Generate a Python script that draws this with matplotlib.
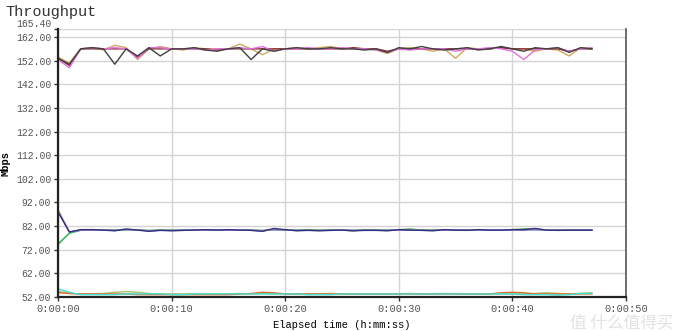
import numpy as np
import matplotlib
matplotlib.use('Agg')
import matplotlib.pyplot as plt

# Throughput (Mbps), one value per second
up_black = [153.0, 150.5, 157.0, 157.5, 157.0, 150.5, 157.0, 154.0, 157.5, 154.0,
            157.0, 157.0, 157.5, 156.5, 156.0, 157.0, 157.5, 152.5, 157.0, 156.0,
            157.0, 157.5, 157.0, 157.0, 157.5, 157.0, 157.0, 156.5, 157.0, 155.5,
            157.5, 157.0, 158.0, 157.0, 156.5, 157.0, 157.5, 156.5, 157.0, 158.0,
            157.0, 156.0, 157.5, 157.0, 157.5, 155.5, 157.5, 157.0]
up_pink = [152.5, 149.0, 157.0, 157.5, 157.0, 157.5, 157.0, 153.0, 157.5, 157.5,
           157.0, 157.0, 157.0, 156.5, 157.0, 157.0, 157.5, 157.0, 158.0, 156.0,
           157.0, 157.0, 157.5, 157.0, 157.0, 157.5, 157.0, 157.0, 156.5, 155.5,
           157.0, 156.5, 157.0, 157.0, 157.0, 156.0, 157.0, 157.0, 157.5, 157.0,
           156.0, 152.5, 156.5, 157.0, 157.5, 156.0, 157.0, 157.5]
up_tan = [153.5, 151.0, 157.0, 157.5, 156.5, 158.5, 157.5, 152.5, 157.0, 158.0,
          157.0, 156.5, 157.5, 157.0, 157.0, 157.0, 159.0, 157.0, 154.5, 157.0,
          157.0, 157.5, 157.0, 157.5, 158.0, 157.0, 157.0, 157.0, 156.5, 155.0,
          157.0, 157.5, 157.0, 156.0, 157.0, 153.0, 157.5, 157.0, 157.0, 157.5,
          157.0, 157.0, 156.0, 157.0, 156.5, 154.0, 157.5, 157.0]
up_brown = [153.0, 150.0, 157.0, 157.0, 157.0, 157.0, 157.0, 153.5, 157.0, 157.0,
            157.0, 157.0, 157.0, 157.0, 156.5, 157.0, 157.0, 157.0, 157.0, 157.0,
            157.0, 157.0, 157.0, 157.0, 157.0, 157.0, 157.5, 157.0, 157.0, 156.0,
            157.0, 157.0, 157.0, 157.0, 157.0, 157.0, 157.0, 157.0, 157.0, 157.5,
            157.0, 157.0, 157.0, 157.0, 157.0, 156.0, 157.0, 157.0]

mid_tan = [89.0, 79.5, 80.3, 80.3, 80.3, 80.3, 80.3, 80.3, 80.2, 80.3,
           80.3, 80.3, 80.3, 80.3, 80.3, 80.3, 80.3, 80.3, 80.2, 80.5,
           80.3, 80.3, 80.3, 80.3, 80.3, 80.3, 80.3, 80.3, 80.3, 80.3,
           80.3, 80.3, 80.3, 80.3, 80.3, 80.3, 80.3, 80.3, 80.3, 80.3,
           80.3, 80.3, 80.5, 80.3, 80.3, 80.3, 80.3, 80.3]
mid_cyan = [74.0, 79.0, 80.2, 80.3, 80.3, 80.3, 80.3, 80.3, 80.2, 80.3,
            80.3, 80.3, 80.3, 80.3, 80.3, 80.3, 80.3, 80.3, 80.2, 80.3,
            80.3, 80.3, 80.3, 80.3, 80.3, 80.3, 80.3, 80.3, 80.3, 80.3,
            80.3, 80.3, 80.3, 80.3, 80.3, 80.3, 80.3, 80.3, 80.3, 80.3,
            80.3, 80.5, 80.3, 80.3, 80.2, 80.3, 80.3, 80.3]
mid_green = [74.5, 79.0, 80.3, 80.5, 80.3, 80.3, 80.5, 80.5, 80.0, 80.3,
             80.3, 80.2, 80.3, 80.3, 80.5, 80.3, 80.3, 80.3, 80.0, 80.5,
             80.3, 80.3, 80.5, 80.3, 80.3, 80.3, 80.0, 80.5, 80.3, 80.3,
             80.5, 80.8, 80.3, 80.3, 80.5, 80.3, 80.3, 80.5, 80.3, 80.3,
             80.5, 80.8, 80.8, 80.3, 80.3, 80.3, 80.3, 80.3]
mid_purple = [88.5, 79.5, 80.3, 80.3, 80.3, 80.2, 80.5, 80.3, 80.0, 80.2,
              80.2, 80.2, 80.3, 80.3, 80.3, 80.3, 80.3, 80.2, 80.0, 80.5,
              80.3, 80.2, 80.2, 80.2, 80.2, 80.3, 80.2, 80.2, 80.2, 80.2,
              80.3, 80.3, 80.2, 80.2, 80.3, 80.3, 80.2, 80.3, 80.3, 80.3,
              80.3, 80.3, 80.5, 80.3, 80.2, 80.3, 80.3, 80.3]
mid_blue = [88.0, 79.5, 80.5, 80.5, 80.3, 80.0, 80.8, 80.3, 79.8, 80.2,
            80.0, 80.2, 80.3, 80.5, 80.3, 80.5, 80.3, 80.2, 79.8, 81.0,
            80.5, 80.0, 80.2, 80.0, 80.2, 80.3, 80.0, 80.2, 80.2, 80.0,
            80.5, 80.3, 80.2, 80.0, 80.5, 80.3, 80.2, 80.5, 80.3, 80.3,
            80.5, 80.5, 81.0, 80.3, 80.2, 80.3, 80.3, 80.3]

low_orange = [53.8, 53.5, 53.3, 53.3, 53.3, 53.3, 53.3, 53.0, 53.0, 53.0,
              53.0, 53.0, 53.0, 53.0, 53.0, 53.0, 53.2, 53.5, 54.0, 53.8,
              53.3, 53.3, 53.3, 53.3, 53.3, 53.3, 53.3, 53.3, 53.3, 53.3,
              53.3, 53.3, 53.3, 53.3, 53.3, 53.3, 53.3, 53.3, 53.3, 53.8,
              54.0, 53.8, 53.3, 53.3, 53.3, 53.3, 53.3, 53.3]
low_olive = [54.5, 53.5, 53.3, 53.3, 53.5, 54.0, 54.3, 54.0, 53.5, 53.3,
             53.3, 53.3, 53.3, 53.3, 53.3, 53.3, 53.5, 53.3, 53.5, 53.3,
             53.3, 53.3, 53.3, 53.3, 53.5, 53.3, 53.3, 53.3, 53.3, 53.3,
             53.3, 53.5, 53.3, 53.3, 53.5, 53.3, 53.3, 53.3, 53.3, 53.3,
             53.3, 53.3, 53.5, 53.8, 53.5, 53.3, 53.5, 53.8]
low_cyan = [55.5, 54.0, 53.0, 53.0, 53.0, 53.0, 53.3, 53.3, 53.3, 53.3,
            53.0, 53.0, 53.3, 53.3, 53.3, 53.3, 53.3, 53.3, 53.3, 53.3,
            53.3, 53.3, 53.0, 53.0, 53.0, 53.3, 53.3, 53.3, 53.3, 53.3,
            53.3, 53.3, 53.3, 53.3, 53.3, 53.3, 53.3, 53.3, 53.3, 53.3,
            53.3, 53.0, 53.0, 53.0, 52.8, 53.0, 53.5, 53.5]

y_ticks = [52, 62, 72, 82, 92, 102, 112, 122, 132, 142, 152, 162, 165.4]
x_ticks = [0, 10, 20, 30, 40, 50]
x_labels = ['0:00:00', '0:00:10', '0:00:20', '0:00:30', '0:00:40', '0:00:50']

series = [
    (low_olive, '#a8c070'), (low_orange, '#e06a2a'), (low_cyan, '#40e0d0'),
    (mid_tan, '#c8a070'), (mid_cyan, '#60d8c8'), (mid_green, '#4caf50'),
    (mid_purple, '#b07ad0'), (mid_blue, '#303080'),
    (up_tan, '#d0a860'), (up_brown, '#8b2a2a'), (up_pink, '#e070e0'), (up_black, '#404040'),
]

mono = 'Liberation Mono'

fig = plt.figure(figsize=(6.8, 3.31), dpi=100)
ax = fig.add_axes([58 / 680, 34 / 331, 568 / 680, 268 / 331])

for vals, c in series:
    t = np.arange(len(vals))
    ax.plot(t, vals, color=c, lw=1.0)

ax.set_xlim(0, 50)
ax.set_ylim(52, 165.4)
ax.set_yticks(y_ticks)
ax.set_yticklabels(['%.2f' % v for v in y_ticks], fontsize=7, family=mono, color='#555555')
# top label sits just above the 162 label
ax.get_yticklabels()[-1].set_va('bottom')
ax.set_xticks(x_ticks)
ax.set_xticklabels(x_labels, fontsize=7.5, family=mono, color='#555555')
ax.grid(True, color='#d4d4d4', lw=1)
ax.set_axisbelow(True)
ax.tick_params(length=3, width=1, color='#333333', pad=2)

for s in ['left', 'bottom']:
    ax.spines[s].set_color('#222222')
    ax.spines[s].set_linewidth(1.6)
ax.spines['right'].set_color('#555555')
ax.spines['right'].set_linewidth(1.2)
ax.spines['top'].set_visible(False)

ax.set_xlabel('Elapsed time (h:mm:ss)', fontsize=7.5, family=mono, labelpad=4)
ax.set_ylabel('Mbps', fontsize=7.5, family=mono, fontweight='bold', labelpad=4)

fig.text(5 / 680, 1 - 12 / 331, 'Throughput', fontsize=11, family=mono,
         color='#333333', va='center', ha='left')
fig.text(0.99, 0.025, '值 什么值得买', fontsize=12, family=['Noto Sans CJK SC', 'DejaVu Sans'],
         color='#e2e2e2', ha='right', va='center')

fig.savefig('out.png', dpi=100)
